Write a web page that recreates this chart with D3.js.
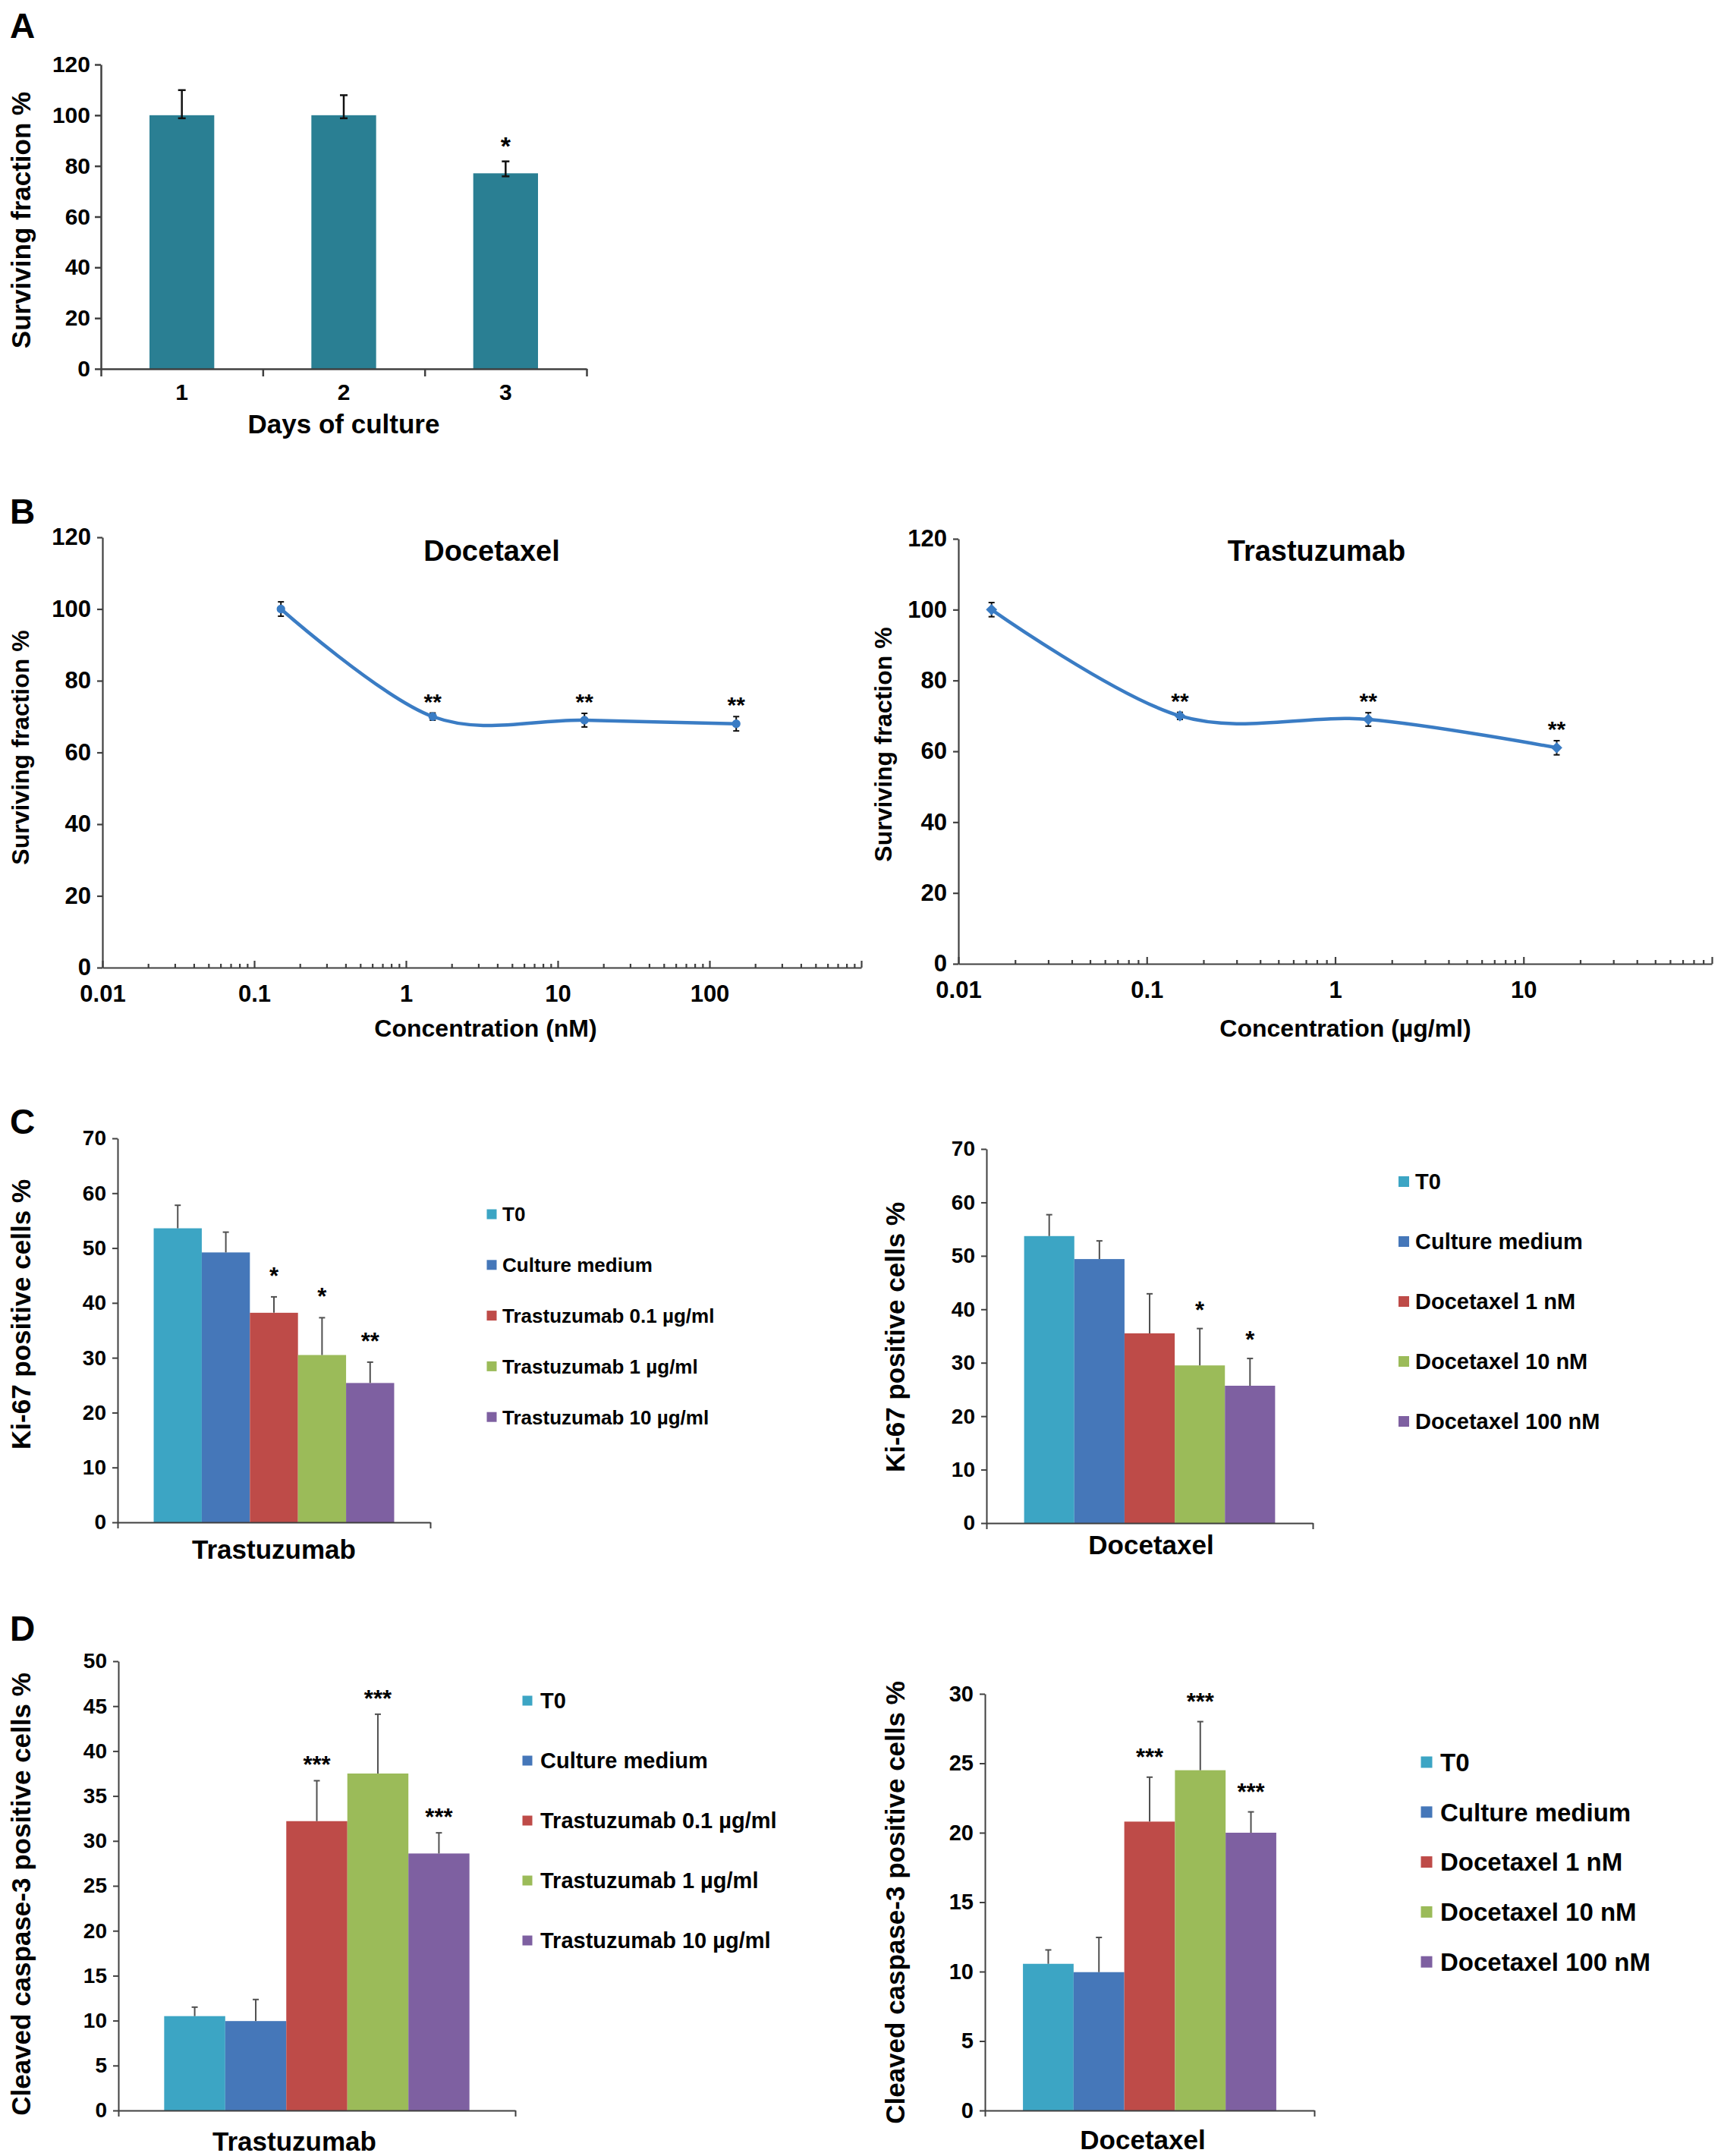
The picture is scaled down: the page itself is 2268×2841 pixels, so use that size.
<!DOCTYPE html>
<html>
<head>
<meta charset="utf-8">
<script src="https://cdn.jsdelivr.net/npm/d3@7"></script>
<style>
  body { margin: 0; background: #fff; }
  svg { display: block; background: #fff; }
</style>
</head>
<body>
<svg id="fig" width="2268" height="2841"></svg>
<script>
// ---- data ----
const daysCategories = ["1", "2", "3"];
const daysValues = [100, 100, 77.1];
const daysErrUp = [9.9, 7.9, 4.7];
const daysErrDown = [1.2, 1.2, 1.2];
const daysSig = ["", "", "*"];
const daysTicks = [0, 20, 40, 60, 80, 100, 120];

const survTicks = [0, 20, 40, 60, 80, 100, 120];

const docConc = [0.15, 1.5, 15, 150];
const docSurv = [100, 70, 69, 68];
const docErr = [2, 1, 1.9, 2];
const docSig = ["", "**", "**", "**"];
const docTickLabels = [0.01, 0.1, 1, 10, 100];

const trasConc = [0.015, 0.15, 1.5, 15];
const trasSurv = [100, 70, 69, 61];
const trasErr = [2, 1, 1.9, 2];
const trasSig = ["", "**", "**", "**"];
const trasTickLabels = [0.01, 0.1, 1, 10];

const trasGroups = ["T0", "Culture medium", "Trastuzumab 0.1 µg/ml", "Trastuzumab 1 µg/ml", "Trastuzumab 10 µg/ml"];
const docGroups = ["T0", "Culture medium", "Docetaxel 1 nM", "Docetaxel 10 nM", "Docetaxel 100 nM"];
const groupColors = ["#3ca5c4", "#4577b9", "#be4b48", "#9bbb59", "#7e60a1"];

const ki67TrasValues = [53.6, 49.2, 38.2, 30.5, 25.4];
const ki67TrasErr = [4.2, 3.7, 2.9, 6.8, 3.8];
const ki67TrasSig = ["", "", "*", "*", "**"];

const ki67DocValues = [53.7, 49.4, 35.5, 29.5, 25.7];
const ki67DocErr = [4.0, 3.4, 7.4, 6.9, 5.1];
const ki67DocSig = ["", "", "", "*", "*"];

const casTrasValues = [10.5, 9.95, 32.2, 37.5, 28.6];
const casTrasErr = [1.0, 2.4, 4.5, 6.6, 2.3];
const casTrasSig = ["", "", "***", "***", "***"];

const casDocValues = [10.56, 9.96, 20.8, 24.5, 20.0];
const casDocErr = [1.0, 2.5, 3.2, 3.5, 1.5];
const casDocSig = ["", "", "***", "***", "***"];

// ---- drawing ----
const FONT = '"Liberation Sans", Arial, Helvetica, sans-serif';
const axisColor = '#404040';
const svg = d3.select('#fig');

function txt(g, x, y, s, size, anchor) {
  return g.append('text')
    .attr('x', x).attr('y', y)
    .attr('font-family', FONT).attr('font-weight', 'bold')
    .attr('font-size', size).attr('fill', '#000')
    .attr('text-anchor', anchor || 'middle')
    .text(s);
}

function yTitle(g, x, y, s, size) {
  g.append('text')
    .attr('transform', `translate(${x},${y}) rotate(-90)`)
    .attr('font-family', FONT).attr('font-weight', 'bold')
    .attr('font-size', size).attr('fill', '#000')
    .attr('text-anchor', 'middle')
    .text(s);
}

function styleAxis(ax, fontSize, width) {
  ax.attr('font-family', FONT).attr('font-size', fontSize).attr('font-weight', 'bold');
  ax.select('.domain').attr('stroke', axisColor).attr('stroke-width', width);
  ax.selectAll('.tick line').attr('stroke', axisColor).attr('stroke-width', width);
  ax.selectAll('.tick text').attr('fill', '#000');
}

// panel letters
txt(svg, 13, 50, 'A', 46, 'start');
txt(svg, 13, 690, 'B', 46, 'start');
txt(svg, 13, 1494, 'C', 46, 'start');
txt(svg, 13, 2162, 'D', 46, 'start');

// ---- A: surviving fraction vs days ----
(function () {
  const left = 133, right = 773, top = 85, bottom = 486;
  const g = svg.append('g');
  const x = d3.scaleBand().domain(daysCategories).range([left, right]).paddingInner(0.6).paddingOuter(0.3);
  const y = d3.scaleLinear().domain([0, 120]).range([bottom, top]);

  g.selectAll('rect.bar').data(daysValues).join('rect')
    .attr('class', 'bar')
    .attr('x', (d, i) => x(daysCategories[i]))
    .attr('y', d => y(d))
    .attr('width', x.bandwidth())
    .attr('height', d => bottom - y(d))
    .attr('fill', '#2a7f93');

  const eb = g.selectAll('g.err').data(daysValues).join('g').attr('class', 'err')
    .attr('stroke', '#111').attr('stroke-width', 2.5);
  const mid = i => x(daysCategories[i]) + x.bandwidth() / 2;
  eb.append('line')
    .attr('x1', (d, i) => mid(i)).attr('x2', (d, i) => mid(i))
    .attr('y1', (d, i) => y(d - daysErrDown[i]))
    .attr('y2', (d, i) => y(d + daysErrUp[i]));
  eb.append('line')
    .attr('x1', (d, i) => mid(i) - 5).attr('x2', (d, i) => mid(i) + 5)
    .attr('y1', (d, i) => y(d + daysErrUp[i])).attr('y2', (d, i) => y(d + daysErrUp[i]));
  eb.append('line')
    .attr('x1', (d, i) => mid(i) - 5).attr('x2', (d, i) => mid(i) + 5)
    .attr('y1', (d, i) => y(d - daysErrDown[i])).attr('y2', (d, i) => y(d - daysErrDown[i]));

  daysSig.forEach((s, i) => {
    if (s) txt(g, mid(i), y(daysValues[i] + daysErrUp[i]) - 9, s, 34);
  });

  const ya = g.append('g').attr('transform', `translate(${left},0)`)
    .call(d3.axisLeft(y).tickValues(daysTicks).tickSize(8).tickPadding(6).tickSizeOuter(0));
  styleAxis(ya, 30, 2.5);

  const xb = d3.scaleLinear().domain([0, daysCategories.length]).range([left, right]);
  const xa = g.append('g').attr('transform', `translate(0,${bottom})`)
    .call(d3.axisBottom(xb).tickValues(d3.range(0, daysCategories.length + 1)).tickSize(10).tickSizeOuter(0).tickFormat(''));
  styleAxis(xa, 30, 2.5);

  daysCategories.forEach((c, i) => txt(g, mid(i), 527, c, 30));
  txt(g, 453, 571, 'Days of culture', 35);
  yTitle(g, 40, 290, 'Surviving fraction %', 35);
})();

// ---- B: dose response curves ----
function logPanel(cfg) {
  const g = svg.append('g');
  const x = d3.scaleLog().domain(cfg.domain).range([cfg.left, cfg.right]);
  const y = d3.scaleLinear().domain([0, 120]).range([cfg.bottom, cfg.top]);
  const pts = cfg.conc.map((c, i) => ({ c, v: cfg.surv[i], e: cfg.err[i], s: cfg.sig[i] }));
  const lineColor = '#3a7cc4';

  const ya = g.append('g').attr('transform', `translate(${cfg.left},0)`)
    .call(d3.axisLeft(y).tickValues(survTicks).tickSize(7).tickPadding(8).tickSizeOuter(0));
  styleAxis(ya, 31, 2.2);

  const isMajor = d => Math.abs(Math.log10(d) - Math.round(Math.log10(d))) < 1e-9;
  const xa = g.append('g').attr('transform', `translate(0,${cfg.bottom})`)
    .call(d3.axisBottom(x).tickValues(x.ticks()).tickSizeInner(-5).tickSizeOuter(0).tickPadding(23)
      .tickFormat(d => cfg.labels.some(l => Math.abs(l - d) / l < 1e-9) ? String(d) : ''));
  styleAxis(xa, 31, 2.2);
  xa.selectAll('.tick line').attr('y2', d => isMajor(d) ? -9 : -5);

  g.append('path')
    .datum(pts)
    .attr('fill', 'none').attr('stroke', lineColor).attr('stroke-width', 4.5)
    .attr('d', d3.line().x(d => x(d.c)).y(d => y(d.v)).curve(d3.curveCardinal.tension(0)));

  const eb = g.selectAll('g.err').data(pts).join('g').attr('class', 'err')
    .attr('stroke', '#111').attr('stroke-width', 2);
  eb.append('line').attr('x1', d => x(d.c)).attr('x2', d => x(d.c))
    .attr('y1', d => y(d.v - d.e)).attr('y2', d => y(d.v + d.e));
  eb.append('line').attr('x1', d => x(d.c) - 4).attr('x2', d => x(d.c) + 4)
    .attr('y1', d => y(d.v + d.e)).attr('y2', d => y(d.v + d.e));
  eb.append('line').attr('x1', d => x(d.c) - 4).attr('x2', d => x(d.c) + 4)
    .attr('y1', d => y(d.v - d.e)).attr('y2', d => y(d.v - d.e));

  const sym = cfg.marker === 'diamond'
    ? d3.symbol().type(d3.symbolSquare).size(110)
    : d3.symbol().type(d3.symbolCircle).size(100);
  g.selectAll('path.mk').data(pts).join('path').attr('class', 'mk')
    .attr('d', sym)
    .attr('transform', d => `translate(${x(d.c)},${y(d.v)})` + (cfg.marker === 'diamond' ? ' rotate(45)' : ''))
    .attr('fill', lineColor);

  pts.forEach(d => { if (d.s) txt(g, x(d.c), y(d.v + d.e) - 5, d.s, 30); });

  txt(g, cfg.titleX, 739, cfg.title, 38);
  txt(g, cfg.xTitleX, 1366, cfg.xTitle, 32);
  yTitle(g, cfg.yTitleX, cfg.yTitleY, 'Surviving fraction %', 32);
}

logPanel({
  left: 135, right: 1135, top: 708, bottom: 1275, domain: [0.01, 1000],
  conc: docConc, surv: docSurv, err: docErr, sig: docSig, labels: docTickLabels,
  marker: 'circle', title: 'Docetaxel', titleX: 648,
  xTitle: 'Concentration (nM)', xTitleX: 640, yTitleX: 38, yTitleY: 985
});
logPanel({
  left: 1263, right: 2256, top: 710, bottom: 1270, domain: [0.01, 100],
  conc: trasConc, surv: trasSurv, err: trasErr, sig: trasSig, labels: trasTickLabels,
  marker: 'diamond', title: 'Trastuzumab', titleX: 1735,
  xTitle: 'Concentration (µg/ml)', xTitleX: 1773, yTitleX: 1175, yTitleY: 981
});

// ---- C / D: grouped bar panels ----
function groupPanel(cfg) {
  const g = svg.append('g');
  const x0 = d3.scaleBand().domain([cfg.xTitle]).range([cfg.left, cfg.right]).paddingOuter(0.15);
  const x1 = d3.scaleBand().domain(cfg.names).range([0, x0.bandwidth()]);
  const y = d3.scaleLinear().domain([0, cfg.yMax]).range([cfg.bottom, cfg.top]);
  const rows = cfg.names.map((n, i) => ({ n, v: cfg.values[i], e: cfg.errs[i], s: cfg.sigs[i], c: groupColors[i] }));
  const bx = d => x0(cfg.xTitle) + x1(d.n);
  const cx = d => bx(d) + x1.bandwidth() / 2;

  g.selectAll('rect.bar').data(rows).join('rect').attr('class', 'bar')
    .attr('x', bx).attr('y', d => y(d.v))
    .attr('width', x1.bandwidth()).attr('height', d => cfg.bottom - y(d.v))
    .attr('fill', d => d.c);

  const eb = g.selectAll('g.err').data(rows).join('g').attr('class', 'err')
    .attr('stroke', '#505050').attr('stroke-width', 2);
  eb.append('line').attr('x1', cx).attr('x2', cx)
    .attr('y1', d => y(d.v)).attr('y2', d => y(d.v + d.e));
  eb.append('line').attr('x1', d => cx(d) - 4).attr('x2', d => cx(d) + 4)
    .attr('y1', d => y(d.v + d.e)).attr('y2', d => y(d.v + d.e));

  rows.forEach(d => { if (d.s) txt(g, cx(d), y(d.v + d.e) - cfg.starOffset, d.s, 31); });

  const ya = g.append('g').attr('transform', `translate(${cfg.left},0)`)
    .call(d3.axisLeft(y).tickValues(d3.range(0, cfg.yMax + cfg.yStep / 2, cfg.yStep)).tickSize(7).tickPadding(8).tickSizeOuter(0));
  styleAxis(ya, cfg.tickFont, 2);

  const xl = d3.scaleLinear().domain([0, 1]).range([cfg.left, cfg.right]);
  const xa = g.append('g').attr('transform', `translate(0,${cfg.bottom})`)
    .call(d3.axisBottom(xl).tickValues([0, 1]).tickSize(8).tickSizeOuter(0).tickFormat(''));
  styleAxis(xa, cfg.tickFont, 2);

  txt(g, cfg.xTitleX, cfg.xTitleY, cfg.xTitle, 35);
  yTitle(g, cfg.yTitleX, cfg.yTitleY, cfg.yTitle, 35);

  // legend
  rows.forEach((d, i) => {
    const ly = cfg.legendY + i * cfg.legendStep;
    g.append('rect')
      .attr('x', cfg.legendX - cfg.sq / 2).attr('y', ly - cfg.sq / 2)
      .attr('width', cfg.sq).attr('height', cfg.sq).attr('fill', d.c);
    txt(g, cfg.legendTextX, ly + cfg.legendFont * 0.36, d.n, cfg.legendFont, 'start');
  });
}

groupPanel({
  left: 155, right: 567, top: 1500, bottom: 2006, yMax: 70, yStep: 10, tickFont: 28,
  names: trasGroups, values: ki67TrasValues, errs: ki67TrasErr, sigs: ki67TrasSig, starOffset: 17,
  xTitle: 'Trastuzumab', xTitleX: 361, xTitleY: 2054,
  yTitle: 'Ki-67 positive cells %', yTitleX: 40, yTitleY: 1732,
  legendX: 648, legendTextX: 662, legendY: 1600, legendStep: 66.8, legendFont: 26, sq: 13
});
groupPanel({
  left: 1300, right: 1730, top: 1514, bottom: 2007, yMax: 70, yStep: 10, tickFont: 28,
  names: docGroups, values: ki67DocValues, errs: ki67DocErr, sigs: ki67DocSig, starOffset: 14,
  xTitle: 'Docetaxel', xTitleX: 1517, xTitleY: 2048,
  yTitle: 'Ki-67 positive cells %', yTitleX: 1192, yTitleY: 1762,
  legendX: 1850, legendTextX: 1865, legendY: 1557, legendStep: 79, legendFont: 29, sq: 14
});
groupPanel({
  left: 156, right: 679, top: 2189, bottom: 2781, yMax: 50, yStep: 5, tickFont: 28,
  names: trasGroups, values: casTrasValues, errs: casTrasErr, sigs: casTrasSig, starOffset: 10,
  xTitle: 'Trastuzumab', xTitleX: 388, xTitleY: 2834,
  yTitle: 'Cleaved caspase-3 positive cells %', yTitleX: 40, yTitleY: 2496,
  legendX: 695, legendTextX: 712, legendY: 2241, legendStep: 79, legendFont: 29, sq: 13
});
groupPanel({
  left: 1298, right: 1732, top: 2232, bottom: 2781, yMax: 30, yStep: 5, tickFont: 29,
  names: docGroups, values: casDocValues, errs: casDocErr, sigs: casDocSig, starOffset: 16,
  xTitle: 'Docetaxel', xTitleX: 1506, xTitleY: 2832,
  yTitle: 'Cleaved caspase-3 positive cells %', yTitleX: 1192, yTitleY: 2507,
  legendX: 1880, legendTextX: 1898, legendY: 2322, legendStep: 65.8, legendFont: 33, sq: 15
});
</script>
</body>
</html>
